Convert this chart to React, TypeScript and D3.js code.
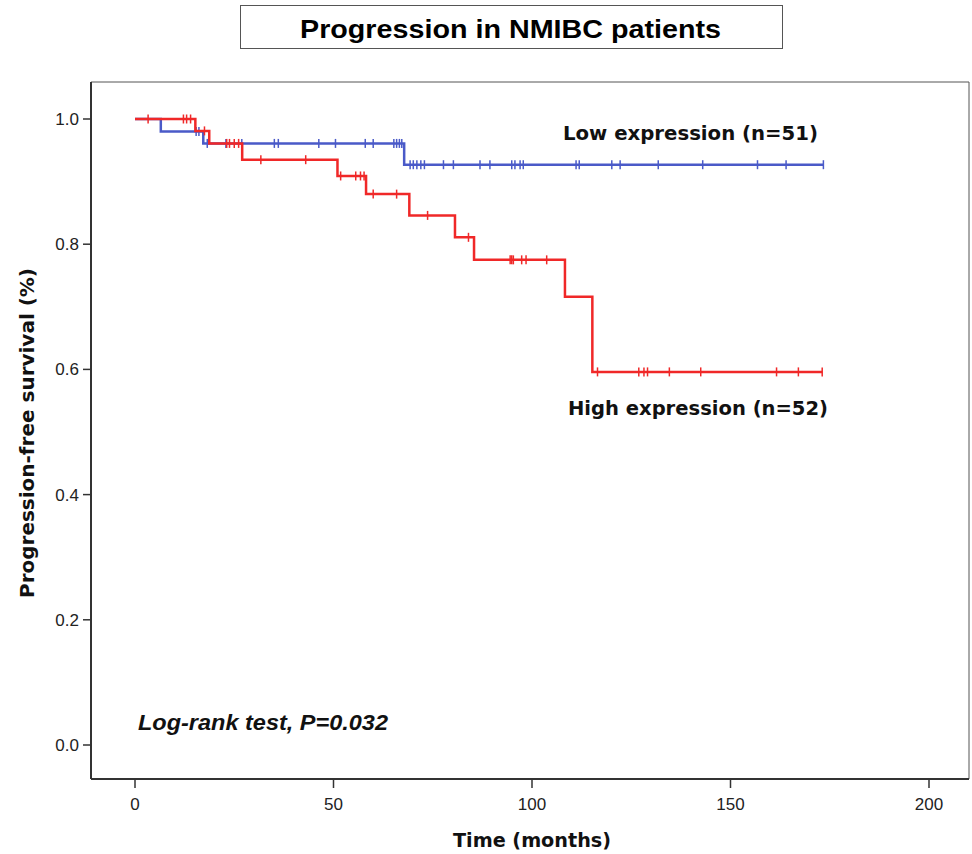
import React from "react";
import * as d3 from "d3";

const title = "Progression in NMIBC patients";
const xTicks = [0, 50, 100, 150, 200];
const yTicks = [0.0, 0.2, 0.4, 0.6, 0.8, 1.0];

// Low expression (blue): step times and survival after each step
const lowStepTimes = [0, 6.5, 17.2, 67.8];
const lowStepSurv = [1.0, 0.980, 0.961, 0.927];
const lowEnd = 173.4;
const lowCensor = [15.4, 16.1, 18.2, 22.9, 26.9, 35.1, 36.1, 46.3, 50.5, 58.0, 60.0, 65.2, 65.9, 66.6, 67.2,
  69.3, 70.1, 71.0, 72.0, 72.9, 77.7, 80.2, 86.9, 89.4, 94.9, 95.7, 97.0, 97.8, 111.1, 111.9, 120.1, 122.2,
  131.8, 143.0, 156.8, 164.0, 173.4];

// High expression (red)
const highStepTimes = [0, 15.2, 18.7, 27.0, 51.0, 58.2, 69.1, 80.6, 85.4, 108.3, 115.2];
const highStepSurv = [1.0, 0.981, 0.961, 0.935, 0.909, 0.880, 0.846, 0.811, 0.775, 0.716, 0.596];
const highEnd = 173.1;
const highCensor = [3.3, 12.2, 13.0, 14.0, 17.5, 23.1, 23.8, 25.0, 26.1, 31.7, 43.0, 51.8, 55.6, 56.8, 57.7,
  60.0, 65.9, 73.7, 84.0, 94.5, 94.9, 95.3, 97.4, 98.5, 103.7, 116.5, 126.9, 128.2, 129.1, 134.6, 142.5,
  161.6, 167.1, 173.1];

const W = 972, H = 854;
const x = d3.scaleLinear().domain([0, 200]).range([135, 929]);
const y = d3.scaleLinear().domain([0, 1]).range([745, 119]);
const frame = { left: 91, top: 82, right: 969, bottom: 779 };

function survAt(times: number[], surv: number[], t: number) {
  let s = surv[0];
  for (let i = 0; i < times.length; i++) if (times[i] <= t) s = surv[i];
  return s;
}

function Curve({ times, surv, end, censor, color }: any) {
  const pts: [number, number][] = times.map((t: number, i: number) => [t, surv[i]]);
  pts.push([end, surv[surv.length - 1]]);
  const line = d3.line<[number, number]>().x(d => x(d[0])).y(d => y(d[1])).curve(d3.curveStepAfter);
  return (
    <g>
      <path d={line(pts) || ""} fill="none" stroke={color} strokeWidth={2.5} />
      {censor.map((t: number, i: number) => {
        const cy = y(survAt(times, surv, t));
        return <line key={i} x1={x(t)} x2={x(t)} y1={cy - 4.5} y2={cy + 4.5} stroke={color} strokeWidth={1.5} />;
      })}
    </g>
  );
}

export default function App() {
  const font = "'Liberation Sans', Arial, sans-serif";
  const dv = "'DejaVu Sans', Verdana, sans-serif";
  return (
    <svg width={W} height={H} style={{ position: "absolute", left: 0, top: 0, background: "#fff" }} fontFamily={font}>
      <rect x={0} y={0} width={W} height={H} fill="#fff" />
      {/* title box */}
      <rect x={240.5} y={5.5} width={542} height={43} fill="#fff" stroke="#555" strokeWidth={1} />
      <text x={300} y={38} fontSize={26} fontWeight="bold" fill="#000" textLength={421} lengthAdjust="spacingAndGlyphs">{title}</text>

      {/* frame */}
      <line x1={frame.left} x2={frame.right} y1={frame.top} y2={frame.top} stroke="#555" strokeWidth={1} />
      <line x1={frame.right} x2={frame.right} y1={frame.top} y2={frame.bottom} stroke="#555" strokeWidth={1} />
      <line x1={frame.left} x2={frame.left} y1={frame.top} y2={frame.bottom} stroke="#333" strokeWidth={2} />
      <line x1={frame.left} x2={frame.right} y1={frame.bottom} y2={frame.bottom} stroke="#333" strokeWidth={2} />

      {yTicks.map(v => (
        <g key={v}>
          <line x1={83} x2={frame.left} y1={y(v)} y2={y(v)} stroke="#333" strokeWidth={1.5} />
          <text x={79} y={y(v) + 6} textAnchor="end" fontSize={17} fill="#222">{v.toFixed(1)}</text>
        </g>
      ))}
      {xTicks.map(v => (
        <g key={v}>
          <line x1={x(v)} x2={x(v)} y1={frame.bottom} y2={frame.bottom + 9} stroke="#333" strokeWidth={1.5} />
          <text x={x(v)} y={810} textAnchor="middle" fontSize={17} fill="#222">{v}</text>
        </g>
      ))}

      <Curve times={lowStepTimes} surv={lowStepSurv} end={lowEnd} censor={lowCensor} color="#4a5ac8" />
      <Curve times={highStepTimes} surv={highStepSurv} end={highEnd} censor={highCensor} color="#f02828" />

      <text x={563} y={140} fontFamily={dv} fontSize={20} fontWeight="bold" fill="#111" textLength={255} lengthAdjust="spacingAndGlyphs">Low expression (n=51)</text>
      <text x={568} y={415} fontFamily={dv} fontSize={20} fontWeight="bold" fill="#111" textLength={260} lengthAdjust="spacingAndGlyphs">High expression (n=52)</text>
      <text x={138} y={730} fontSize={22} fontWeight="bold" fontStyle="italic" fill="#111" textLength={250} lengthAdjust="spacingAndGlyphs">Log-rank test, P=0.032</text>

      <text x={453} y={847} fontFamily={dv} fontSize={20} fontWeight="bold" fill="#111" textLength={158} lengthAdjust="spacingAndGlyphs">Time (months)</text>
      <text transform={`translate(34,598) rotate(-90)`} fontFamily={dv} fontSize={19} fontWeight="bold" fill="#111" textLength={330} lengthAdjust="spacingAndGlyphs">Progression-free survival (%)</text>
    </svg>
  );
}
